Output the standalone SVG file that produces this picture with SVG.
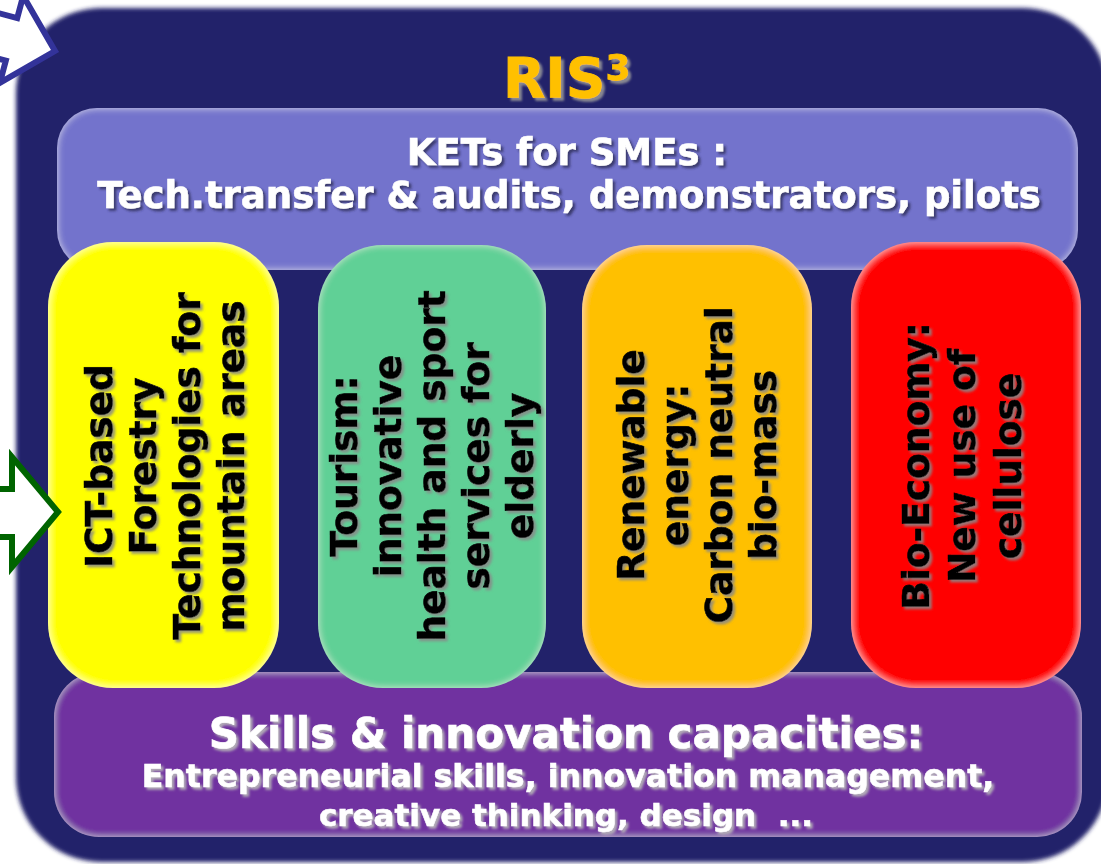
<svg xmlns="http://www.w3.org/2000/svg" width="1101" height="864" viewBox="0 0 1101 864">
<defs>
<filter id="soft" x="-5%" y="-5%" width="110%" height="110%">
<feGaussianBlur stdDeviation="2.2"/>
</filter>
<filter id="glow" x="-5%" y="-5%" width="110%" height="110%">
<feGaussianBlur in="SourceAlpha" stdDeviation="3.5" result="b"/>
<feComponentTransfer in="b" result="inv"><feFuncA type="linear" slope="-1" intercept="1"/></feComponentTransfer>
<feFlood flood-color="#ffffff" flood-opacity="0.5"/>
<feComposite in2="inv" operator="in" result="w"/>
<feComposite in="w" in2="SourceAlpha" operator="in" result="edge"/>
<feMerge><feMergeNode in="SourceGraphic"/><feMergeNode in="edge"/></feMerge>
</filter>
<filter id="shDark" x="-10%" y="-20%" width="120%" height="140%">
<feDropShadow dx="2.5" dy="2.5" stdDeviation="1.3" flood-color="#2a2a50" flood-opacity="0.75"/>
</filter>
<filter id="shPale" x="-10%" y="-20%" width="120%" height="140%">
<feDropShadow dx="2.5" dy="2.5" stdDeviation="1.3" flood-color="#b8b8b8" flood-opacity="0.9"/>
</filter>
<filter id="shGray" x="-10%" y="-20%" width="120%" height="140%">
<feDropShadow dx="3" dy="3" stdDeviation="1.3" flood-color="#999999" flood-opacity="0.85"/>
</filter>
<filter id="shRot" x="-10%" y="-20%" width="120%" height="140%">
<feDropShadow dx="-2.5" dy="2.5" stdDeviation="1.3" flood-color="#888888" flood-opacity="0.85"/>
</filter>
</defs>
<style>
text{font-family:"DejaVu Sans","Verdana",sans-serif;font-weight:bold;}
.w{fill:#ffffff;stroke:#ffffff;stroke-width:0.6;text-anchor:middle;filter:url(#shDark);}
.wp{fill:#ffffff;stroke:#ffffff;stroke-width:0.6;text-anchor:middle;filter:url(#shPale);}
.p{fill:#000000;stroke:#000000;stroke-width:0.7;text-anchor:middle;font-size:37.5px;filter:url(#shRot);}
.arrow{fill:#ffffff;stroke-width:6;stroke-linejoin:miter;}
</style>

<g id="frame">
<rect x="16" y="8" width="1092" height="854" rx="85" fill="#22226a" filter="url(#soft)"/>
<text x="503" y="97" font-size="55" fill="#ffc000" stroke="#ffc000" stroke-width="0.8" filter="url(#shGray)">RIS<tspan font-size="36" dy="-17">3</tspan></text>
</g>

<g id="kets">
<rect x="57" y="108" width="1021" height="162" rx="40" fill="#7373cc" filter="url(#glow)"/>
<text class="w" x="567" y="165" font-size="37">KETs for SMEs :</text>
<text class="w" x="569" y="208" font-size="37">Tech.transfer &amp; audits, demonstrators, pilots</text>
</g>

<g id="skills">
<rect x="54" y="672" width="1028" height="165" rx="45" fill="#7030a0" filter="url(#glow)"/>
<text class="wp" x="566" y="748" font-size="42">Skills &amp; innovation capacities:</text>
<text class="wp" x="568" y="787" font-size="31.6">Entrepreneurial skills, innovation management,</text>
<text class="wp" x="566" y="826" font-size="31" style="white-space:pre">creative thinking, design  ...</text>
</g>

<g id="ict">
<rect x="48" y="242" width="231" height="446" rx="65" fill="#ffff00" filter="url(#glow)"/>
<g transform="translate(0,466) rotate(-90)">
<text class="p" x="0" y="112">ICT-based</text>
<text class="p" x="0" y="156">Forestry</text>
<text class="p" x="0" y="200">Technologies for</text>
<text class="p" x="0" y="244">mountain areas</text>
</g>
</g>

<g id="tourism">
<rect x="318" y="245" width="228" height="443" rx="65" fill="#61d096" filter="url(#glow)"/>
<g transform="translate(0,466) rotate(-90)">
<text class="p" x="0" y="357">Tourism:</text>
<text class="p" x="0" y="401">innovative</text>
<text class="p" x="0" y="445">health and sport</text>
<text class="p" x="0" y="489">services for</text>
<text class="p" x="0" y="533">elderly</text>
</g>
</g>

<g id="energy">
<rect x="582" y="245" width="230" height="443" rx="65" fill="#ffc000" filter="url(#glow)"/>
<g transform="translate(0,465) rotate(-90)">
<text class="p" x="0" y="644">Renewable</text>
<text class="p" x="0" y="688">energy:</text>
<text class="p" x="0" y="732">Carbon neutral</text>
<text class="p" x="0" y="776">bio-mass</text>
</g>
</g>

<g id="bioeconomy">
<rect x="851" y="242" width="230" height="446" rx="65" fill="#ff0000" filter="url(#glow)"/>
<g transform="translate(0,466) rotate(-90)">
<text class="p" x="0" y="929">Bio-Economy:</text>
<text class="p" x="0" y="975">New use of</text>
<text class="p" x="0" y="1021">cellulose</text>
</g>
</g>

<g id="connectors">
<polygon class="arrow" stroke="#33339a" points="0,0 -45,-45 -45,-22 -200,-22 -200,22 -45,22 -45,45" transform="translate(55,51) rotate(15)"/>
<polygon class="arrow" stroke="#006400" points="58,512 12,457 12,489 -60,489 -60,537 12,537 12,567"/>
</g>
</svg>
